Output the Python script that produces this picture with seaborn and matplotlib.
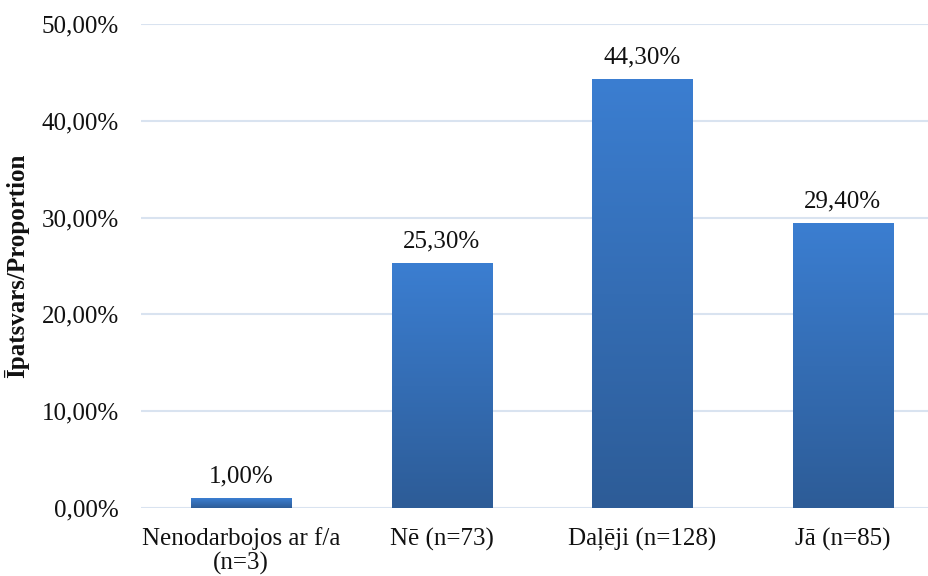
import numpy as np
import pandas as pd
import matplotlib
matplotlib.use("Agg")
import matplotlib.pyplot as plt
import seaborn as sns
from matplotlib.colors import LinearSegmentedColormap

categories = ["Nenodarbojos ar f/a\n(n=3)", "Nē (n=73)", "Daļēji (n=128)", "Jā (n=85)"]
values = [1.0, 25.3, 44.3, 29.4]
yticks = [0, 10, 20, 30, 40, 50]
ylabel = "Īpatsvars/Proportion"

df = pd.DataFrame({"cat": categories, "val": values})

sns.set_theme(style="white")
plt.rcParams["font.family"] = ["Liberation Serif", "DejaVu Serif"]
plt.rcParams["text.color"] = "#111111"
plt.rcParams["xtick.color"] = "#111111"
plt.rcParams["ytick.color"] = "#111111"
plt.rcParams["axes.labelcolor"] = "#111111"

fig = plt.figure(figsize=(9.29, 5.76), dpi=100)
ax = fig.add_axes([141 / 929, 68 / 576, (929 - 141) / 929, 484 / 576])

sns.barplot(data=df, x="cat", y="val", color="#3a78c8", width=0.5, ax=ax, zorder=3)

ax.set_ylim(0, 50)
ax.set_xlim(-0.5, 3.43)
ax.set_yticks(yticks)
ax.set_yticklabels([f"{t:.2f}%".replace(".", ",") for t in yticks], fontsize=18)
ax.tick_params(axis="x", labelsize=18, pad=14, length=0)
ax.tick_params(axis="y", pad=16, length=0)
for lab in ax.get_xticklabels():
    lab.set_linespacing(1.1)
ax.set_xlabel("")
ax.set_ylabel(ylabel, fontsize=18, fontweight="bold")
ax.yaxis.set_label_coords(-0.142, 0.5)
ax.yaxis.grid(True, color="#d9e3f0", linewidth=1.5, zorder=0)
ax.set_axisbelow(True)
for s in ax.spines.values():
    s.set_visible(False)

cmap = LinearSegmentedColormap.from_list("g", ["#2d5c97", "#3b7ed1"])
grad = np.linspace(0, 1, 256).reshape(-1, 1)
for p in ax.patches:
    x0, y0 = p.get_x(), p.get_y()
    w, h = p.get_width(), p.get_height()
    im = ax.imshow(grad, cmap=cmap, extent=[x0, x0 + w, y0, y0 + h], origin="lower",
                   aspect="auto", zorder=4)
    im.set_clip_path(p)
    p.set_facecolor("none")
    p.set_edgecolor("none")

ax.set_xlim(-0.5, 3.43)
ax.set_ylim(0, 50)

for i, v in enumerate(values):
    ax.annotate(f"{v:.2f}%".replace(".", ","), (i, v), xytext=(0, 8), textcoords="offset points",
                ha="center", va="bottom", fontsize=18)

fig.savefig("out.png", dpi=100)
